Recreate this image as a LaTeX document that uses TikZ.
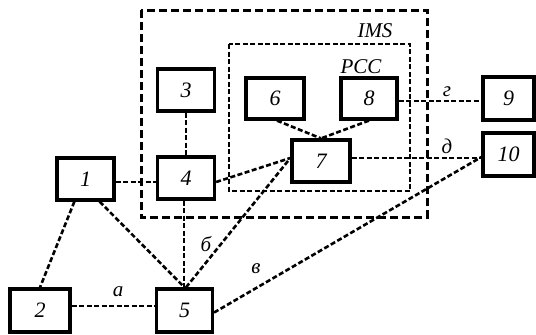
\documentclass[tikz,border=0pt]{standalone}
\usepackage{fontspec}
\setmainfont{Liberation Serif}
\usetikzlibrary{calc}
\begin{document}
\begin{tikzpicture}[x=1pt,y=-1pt,
  blk/.style={draw,line width=3.2pt,minimum width=#1,inner sep=0pt,font=\fontsize{22}{24}\selectfont\itshape},
  blk/.default=57pt,
  conn/.style={line width=2.6pt,dash pattern=on 5pt off 2.5pt},
  lab/.style={font=\fontsize{21}{24}\selectfont\itshape,inner sep=0pt},
  imsbox/.style={line width=3pt,dash pattern=on 8pt off 4pt},
  pccbox/.style={line width=2.8pt,dash pattern=on 5pt off 2.5pt}]
\useasboundingbox (0,0) rectangle (536,335);
\draw[imsbox] (141,10) rectangle (427,217);
\draw[pccbox] (229,44) rectangle (410,191);
\node[blk=57pt,minimum height=42pt] (n1) at (85.5,179) {1};
\node[blk=60pt,minimum height=43pt] (n2) at (40,310.5) {2};
\node[blk=57pt,minimum height=42pt] (n3) at (186,90) {3};
\node[blk=57pt,minimum height=42pt] (n4) at (186,178) {4};
\node[blk=56pt,minimum height=43pt] (n5) at (184.5,310.5) {5};
\node[blk=58pt,minimum height=41pt] (n6) at (275,98.5) {6};
\node[blk=58pt,minimum height=42pt] (n7) at (321,161) {7};
\node[blk=56pt,minimum height=41pt] (n8) at (369,98.5) {8};
\node[blk=51pt,minimum height=43pt] (n9) at (508.5,98.5) {9};
\node[blk=51pt,minimum height=43pt] (n10) at (508.5,154.5) {10};
\coordinate (p7w) at ($(n7.west)+(0,-3)$);
\coordinate (p7e) at ($(n7.east)+(0,-3)$);
\coordinate (p10w) at ($(n10.west)+(0,2.5)$);
\coordinate (p1e) at ($(n1.east)+(0,3)$);
\coordinate (p4s) at ($(n4.south)+(-2,0)$);
\coordinate (p8e) at ($(n8.east)+(0,2.5)$);
\coordinate (p2e) at ($(n2.east)+(0,-4.5)$);
\draw[conn] (p1e) -- (p1e -| n4.west);
\draw[conn] (n3.south) -- (n4.north);
\draw[conn] (p4s) -- (p4s |- n5.north);
\draw[conn] ($(n4.east)+(0,4)$) -- (p7w);
\draw[conn] ($(n6.south)+(2,0)$) -- (n7.north);
\draw[conn] (n8.south) -- (n7.north);
\draw[conn] (p8e) -- (p8e -| n9.west);
\draw[conn] (p7e) -- (p7e -| n10.west);
\draw[conn] ($(n5.east)+(0,2)$) -- (p10w);
\draw[conn] ($(n5.north)+(1.5,0)$) -- (p7w);
\draw[conn] ($(n1.south west)+(19,0)$) -- (n2.north);
\draw[conn] ($(n1.south east)+(-16,0)$) -- (n5.north);
\draw[conn] (p2e) -- (p2e -| n5.west);
\node[lab] (lims) at (375,31) {IMS};
\node[lab] (lpcc) at (361,67) {PCC};
\node[lab] (lg) at (447,92) {г};
\node[lab] (ld) at (447,146) {д};
\node[lab] (la) at (118,292) {а};
\node[lab] (lb) at (206,244) {б};
\node[lab] (lv) at (256,269) {в};
\end{tikzpicture}
\end{document}
